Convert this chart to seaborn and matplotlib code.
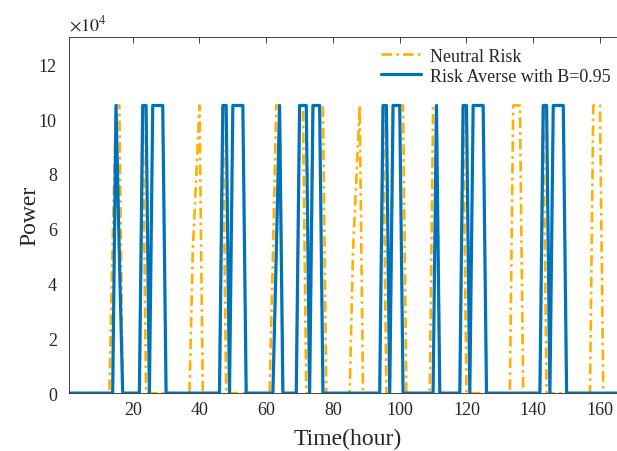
"""
Potência horária: risco neutro vs. avesso ao risco (B=0.95).
"""
import numpy as np
import pandas as pd
import matplotlib
matplotlib.use("Agg")
import matplotlib.pyplot as plt
import seaborn as sns

# horas do horizonte (eixo x)
horas = np.arange(1, 169)

# Neutral Risk: horas com potência não nula e valores
neutro_horas = [14, 15, 16, 23, 38, 39, 40, 47, 62, 63, 64, 70, 71,
                74, 75, 76, 77, 86, 87, 88, 95, 98, 99, 100, 101,
                110, 111, 119, 134, 135, 136, 143, 158, 159, 160]
neutro_pot = [55000, 105000, 105000, 105000, 52000, 78000, 105000, 105000,
              50000, 105000, 105000, 105000, 105000,
              105000, 105000, 105000, 105000, 52000, 78000, 105000, 105000,
              105000, 105000, 105000, 105000,
              105000, 105000, 105000, 105000, 105000, 105000, 105000,
              105000, 105000, 105000]

# Risk Averse with B=0.95
averso_horas = [15, 16, 23, 24, 26, 27, 28, 29, 47, 48, 50, 51, 52, 53,
                63, 64, 70, 71, 72, 74, 75, 76, 95, 96, 98, 99, 100, 111,
                119, 120, 122, 123, 124, 125, 143, 144, 146, 147, 148, 149]
averso_pot = [105000, 50000, 105000, 105000, 105000, 105000, 105000, 105000,
              105000, 105000, 105000, 105000, 105000, 105000,
              50000, 105000, 105000, 105000, 105000, 105000, 105000, 105000,
              105000, 105000, 105000, 105000, 105000, 105000,
              105000, 105000, 105000, 105000, 105000, 105000,
              105000, 105000, 105000, 105000, 105000, 105000]

yticks_val = [0, 20000, 40000, 60000, 80000, 100000, 120000]
yticks_lab = ["0", "2", "4", "6", "8", "10", "12"]
xticks_val = [20, 40, 60, 80, 100, 120, 140, 160]

# séries completas (zero fora das horas listadas)
df = pd.DataFrame({"hora": horas, "neutro": 0.0, "averso": 0.0})
df.loc[df["hora"].isin(neutro_horas), "neutro"] = neutro_pot
df.loc[df["hora"].isin(averso_horas), "averso"] = averso_pot

sns.set_theme(style="white")
plt.rcParams["font.family"] = ["Liberation Serif", "DejaVu Serif"]
plt.rcParams["mathtext.fontset"] = "stix"

fig = plt.figure(figsize=(6.17, 4.52), dpi=100)
# o eixo vai até 168 h; a imagem original corta a borda direita
ax = fig.add_axes([0.1123, 0.128, 0.9034, 0.788])

sns.lineplot(data=df, x="hora", y="neutro", ax=ax, color="#FFB000",
             linewidth=1.9, linestyle=(0, (4, 1.6, 1, 1.6)),
             label="Neutral Risk")
sns.lineplot(data=df, x="hora", y="averso", ax=ax, color="#0072BD",
             linewidth=2.3, label="Risk Averse with B=0.95")

ax.set_xlim(1, 168)
ax.set_ylim(0, 130000)
ax.set_xticks(xticks_val)
ax.set_xticklabels([str(v) for v in xticks_val])
ax.set_yticks(yticks_val)
ax.set_yticklabels(yticks_lab)
ax.tick_params(axis="both", direction="in", length=4, width=0.6,
               labelsize=13, colors="#262626", top=True)
ax.tick_params(axis="y", pad=9)
ax.tick_params(axis="x", pad=6)
ax.set_xlabel("Time(hour)", fontsize=17, color="#262626", labelpad=7)
ax.set_ylabel("Power", fontsize=17, color="#262626", labelpad=-1)
ax.text(0.0, 1.008, r"$\times10^{4}$", transform=ax.transAxes,
        fontsize=13, color="#262626", ha="left", va="bottom")

for lado in ["left", "bottom", "top"]:
    ax.spines[lado].set_color("#262626")
    ax.spines[lado].set_linewidth(0.6)
ax.spines["right"].set_visible(False)

# legenda sem moldura, encostada na borda visível da figura
leg = ax.legend(loc="upper right", frameon=False, fontsize=13,
                handlelength=2.2, handletextpad=0.5, borderaxespad=0.2,
                labelspacing=0.15, bbox_to_anchor=(0.99, 1.0))

fig.savefig("out.png", dpi=100)
